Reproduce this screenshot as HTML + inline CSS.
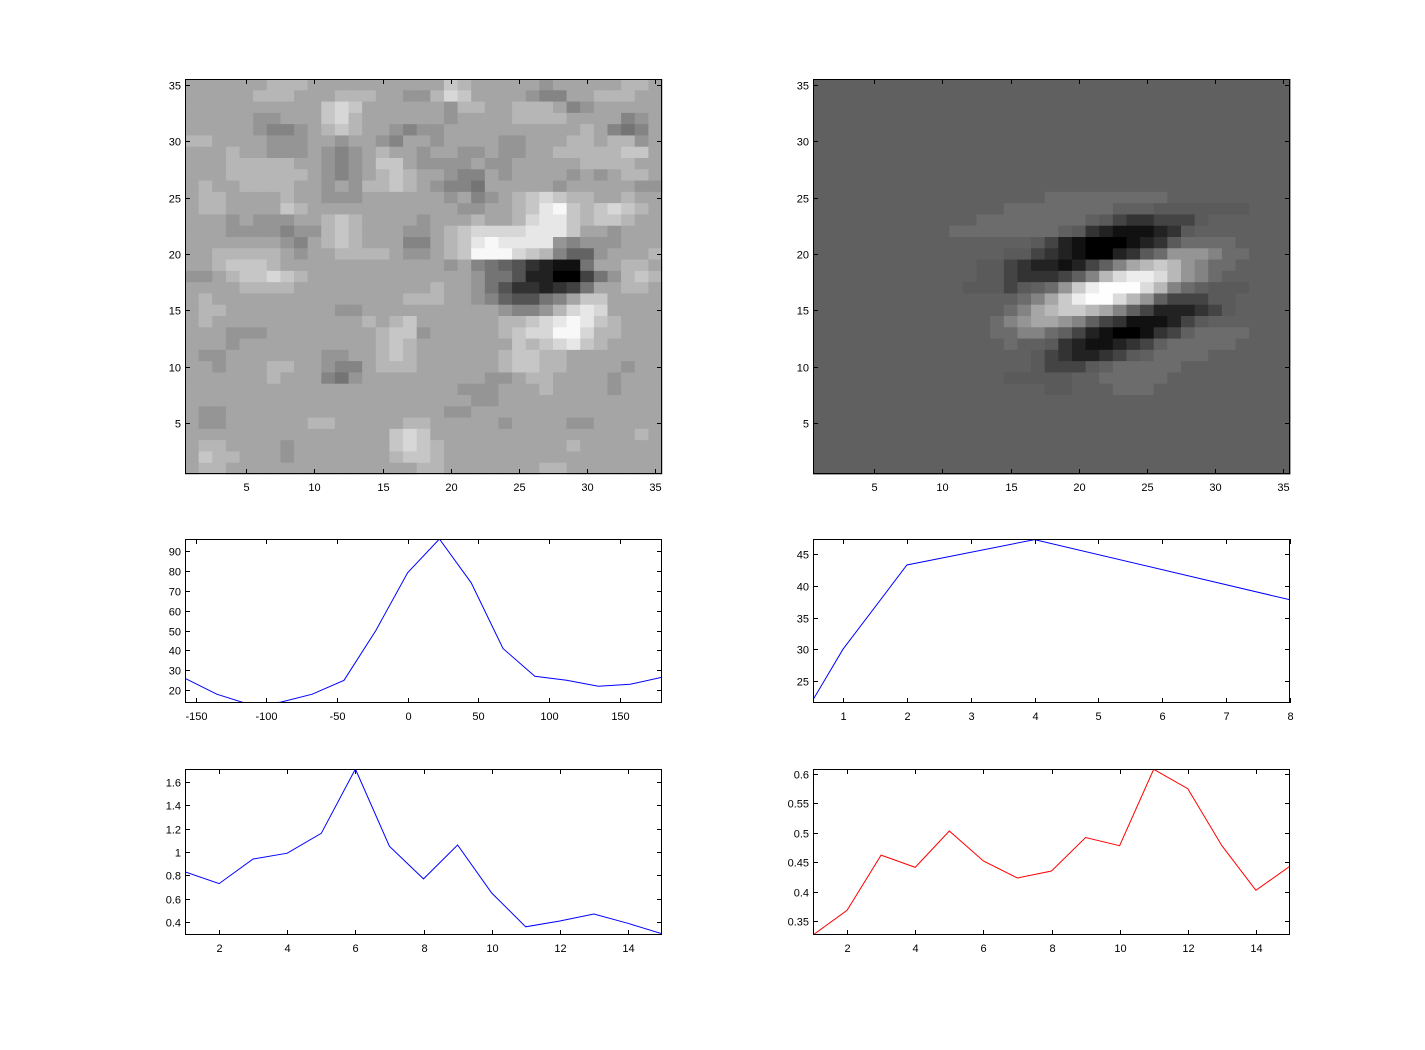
<!DOCTYPE html>
<html><head><meta charset="utf-8"><style>
html,body{margin:0;padding:0;background:#fff;}
svg{display:block;font-family:"Liberation Sans",sans-serif;font-size:11px;}
</style></head><body>
<svg id="fig" width="1425" height="1050" viewBox="0 0 1425 1050" xmlns="http://www.w3.org/2000/svg">
<rect width="1425" height="1050" fill="#fff"/>
</svg>
<script>
// ---- data ----
const rawLeft = [
"aaaaa abbba aaaaa aaaac baaaa a9aaa aabba",
"aaaaa bbbaa abbba a99bd caaaa 988aa bbbaa",
"aaaaa aaaaa cdcaa aaaa9 bbaab bba89 aaaaa",
"aaaaa 99aaa cdbaa aaaa9 aaaab bbbaa aa89a",
"aaaaa 9889a bcbaa 9899a aaaaa aaaab a878a",
"bbaaa a999a a9aa9 8aa9a aaa99 aaabb abb9a",
"aaaba a999a 989ab aa9aa 99a99 aabbb bbcca",
"aaabb bbbaa 989ac ca999 9a99a aaaab bbbaa",
"aaabb bbbba 989ab cbaa9 88a9a aaa9a 9abba",
"abaab bbbaa 9a9bb cba98 87aaa aa9aa aaa99",
"abbaa aabaa 999aa aaaa9 a89ab cdcbb aabaa",
"abbaa aacba aaaaa aaaaa 99aab cefcb cdcba",
"aaa9a 999aa bcbaa aa9aa abaab deecb ccbaa",
"aaa99 99899 bcbaa a99ab cdddd eeeca a9aaa",
"aaaaa aa98a bcbaa a88ab cefee ee989 99aaa",
"aabbb bba9a abbbb a99ab cfffd cb866 9aaab",
"aabcc cbaaa aaaaa aaaa9 a8765 32117 aabba",
"99abc cdcba aaaaa aaaaa a9775 22004 79bcb",
"aaaab bbbaa aaaaa aaaba a9753 32347 aabba",
"abaaa aaaaa aaaaa abbba a9865 578ac caaaa",
"abbaa aaaaa a99aa aaaaa aaa98 89bde daaaa",
"abaaa aaaaa aaaba bcaaa aaabb cdefe cbaaa",
"aaa99 9aaaa aaaab cc9aa aaabc ddffd bbaaa",
"aaa9a aaaaa aaaab cbaaa aaaac bcdec baaaa",
"a99aa aaaaa 99aab cbaaa aaabc cbbaa aaaaa",
"aa9aa abbaa 988ab bbaaa aaabc cbbaa aa9aa",
"aaaaa abaaa 879aa aaaaa aa99a bbaaa a9aaa",
"aaaaa aaaaa aaaaa aaaaa 999aa abaaa a9aaa",
"aaaaa aaaaa aaaaa aaaaa a99aa aaaaa aaaaa",
"a99aa aaaaa aaaaa aaaa9 9aaaa aaaaa aaaaa",
"a99aa aaaab baaaa abbaa aaa9a aaa99 aaaaa",
"aaaaa aaaaa aaaaa cdcaa aaaaa aaaaa aaaba",
"abbaa aa9aa aaaaa cdcba aaaaa aaaba aaaaa",
"acbba aa9aa aaaaa bccba aaaaa aaaaa aaaaa",
"abbaa aaaaa aaaaa aabba aaaaa abbaa aaaaa"
];
const rawRight = [
"66666666666666666666666666666666666","66666666666666666666666666666666666","66666666666666666666666666666666666",
"66666666666666666666666666666666666","66666666666666666666666666666666666","66666666666666666666666666666666666",
"66666666666666666666666666666666666","66666666666666666666666666666666666","66666666666666666666666666666666666",
"66666666666666666666666666666666666",
"66666666666666666 777777777 666666666",
"66666666666666 77777777 666 5555555 666",
"666666666666 77777777 654334445 666666",
"6666666666 77777777 6532111235 6666666",
"6666666666666666 54210001235 77776666",
"66666666666666 5543210023579998 77666",
"666666666666 55432212468abcb987 76666",
"666666666666 554333468bdeedb98 766666",
"66666666666 55545679cefffdb876555 666",
"66666666666666 678aceffdb964445 56666",
"66666666666666 78abccba864222345 6666",
"6666666666666 789aa98643111245 666666",
"6666666666666 778876421001346 7777666",
"66666666666666 76653211234677 7776666",
"666666666666666 654322345677 77666666",
"6666666666666666 5444567777 766666666",
"66666666666666 555556677777 666666666",
"66666666666666666 556667776 666666666",
"66666666666666666666666666666666666","66666666666666666666666666666666666","66666666666666666666666666666666666",
"66666666666666666666666666666666666","66666666666666666666666666666666666","66666666666666666666666666666666666",
"66666666666666666666666666666666666"
];
const orientX = [-157.5,-135,-112.5,-90,-67.5,-45,-22.5,0,22.5,45,67.5,90,112.5,135,157.5,180];
const orientY = [26,18,13,14,18,25,50,79,96,74,41,27,25,22,23,26.5];
const sfX = [0.5,1,2,4,8];
const sfY = [21.5,30,43.3,47.3,37.8];
const blX = [1,2,3,4,5,6,7,8,9,10,11,12,13,14,15];
const blY = [0.83,0.73,0.94,0.99,1.16,1.71,1.05,0.77,1.06,0.65,0.36,0.41,0.47,0.39,0.30];
const brX = [1,2,3,4,5,6,7,8,9,10,11,12,13,14,15];
const brY = [0.326,0.368,0.462,0.441,0.503,0.452,0.423,0.435,0.492,0.478,0.608,0.575,0.478,0.402,0.443];
const hmTicks = [5,10,15,20,25,30,35];
const orientXTicks = [-150,-100,-50,0,50,100,150];
const orientYTicks = [20,30,40,50,60,70,80,90];
const sfXTicks = [1,2,3,4,5,6,7,8];
const sfYTicks = [25,30,35,40,45];
const blXTicks = [2,4,6,8,10,12,14];
const blYTicks = [0.4,0.6,0.8,1,1.2,1.4,1.6];
const brXTicks = [2,4,6,8,10,12,14];
const brYTicks = [0.35,0.4,0.45,0.5,0.55,0.6];

const NS = "http://www.w3.org/2000/svg";
const svg = document.getElementById('fig');
function mk(tag, attrs, parent){const e=document.createElementNS(NS,tag);for(const k in attrs)e.setAttribute(k,attrs[k]);(parent||svg).appendChild(e);return e;}
function scale(d0,d1,r0,r1){return v=>r0+(v-d0)/(d1-d0)*(r1-r0);}
function fmt(v){return String(Math.round(v*1000)/1000);}

function axes(name,L,T,R,B,xd,yd,xt,yt){
  const g=mk('g',{});
  
  
  const xs=scale(xd[0],xd[1],L,R), ys=scale(yd[0],yd[1],B,T);
  return {g,xs,ys,L,T,R,B,xt,yt,name};
}
function frame(a){
  const {g,xs,ys,L,T,R,B,xt,yt}=a;
  const box=mk('rect',{x:L+0.5,y:T+0.5,width:R-L-1,height:B-T-1,fill:'none',stroke:'#000','stroke-width':1},g);
  
  
  xt.forEach(v=>{
    const x=Math.round(xs(v))+0.5;
    mk('line',{x1:x,y1:B,x2:x,y2:B-5,stroke:'#000'},g);
    mk('line',{x1:x,y1:T,x2:x,y2:T+5,stroke:'#000'},g);
    const t=mk('text',{x:x,y:B+17,'text-anchor':'middle',fill:'#000'},g);
    t.textContent=fmt(v);
    
    
  });
  yt.forEach(v=>{
    const y=Math.round(ys(v))+0.5;
    mk('line',{x1:L,y1:y,x2:L+5,y2:y,stroke:'#000'},g);
    mk('line',{x1:R,y1:y,x2:R-5,y2:y,stroke:'#000'},g);
    const t=mk('text',{x:L-4,y:y+4,'text-anchor':'end',fill:'#000'},g);
    t.textContent=fmt(v);
    
    
  });
}
function grayLeft(v){return Math.round(v*16.5);}
function grayRight(v){
  if(v===6) return 96;
  if(v===5) return 90;
  if(v===7) return 108;
  return v<6?Math.round(v*17):Math.round(96+(v-6)*17.6);
}
function heat(a,raw,gfn){
  const rows=raw.map(r=>{const s=r.replace(/\s/g,'');return s.padEnd(35,s.slice(-1)).slice(0,35);});
  rows.forEach((row,ri)=>{
    const yv=35-ri;
    for(let c=0;c<35;c++){
      const v=parseInt(row[c],16);
      const gray=gfn(v);
      const x0=a.xs(c+0.5), x1=a.xs(c+1.5), y0=a.ys(yv+0.5), y1=a.ys(yv-0.5);
      const r=mk('rect',{x:x0,y:y0,width:x1-x0+0.6,height:y1-y0+0.6,fill:`rgb(${gray},${gray},${gray})`},a.g);
      
      
    }
  });
}
function line(a,xsArr,ysArr,color){
  const cp=mk('clipPath',{id:'cp-'+a.name},a.g);
  mk('rect',{x:a.L,y:a.T,width:a.R-a.L,height:a.B-a.T},cp);
  const pts=xsArr.map((x,i)=>a.xs(x).toFixed(1)+','+a.ys(ysArr[i]).toFixed(1)).join(' ');
  const p=mk('polyline',{points:pts,fill:'none',stroke:color,'stroke-width':1,'clip-path':'url(#cp-'+a.name+')'},a.g);
  
  
}

const A1=axes('stimulus-heatmap',185,79,662,474,[0.5,35.5],[0.5,35.5],hmTicks,hmTicks);
heat(A1,rawLeft,grayLeft); frame(A1);
const A2=axes('model-heatmap',813,79,1290,474,[0.5,35.5],[0.5,35.5],hmTicks,hmTicks);
heat(A2,rawRight,grayRight); frame(A2);
const A3=axes('orientation-tuning-plot',185,539,662,703,[-157.5,180],[13.6,96],orientXTicks,orientYTicks);
line(A3,orientX,orientY,'#0000ff'); frame(A3);
const A4=axes('frequency-tuning-plot',813,539,1290,703,[0.53,8],[21.5,47.4],sfXTicks,sfYTicks);
line(A4,sfX,sfY,'#0000ff'); frame(A4);
const A5=axes('blue-series-plot',185,769,662,935,[1,15],[0.29,1.71],blXTicks,blYTicks);
line(A5,blX,blY,'#0000ff'); frame(A5);
const A6=axes('red-series-plot',813,769,1290,935,[1,15],[0.326,0.6085],brXTicks,brYTicks);
line(A6,brX,brY,'#ff0000'); frame(A6);
</script>
</body></html>
